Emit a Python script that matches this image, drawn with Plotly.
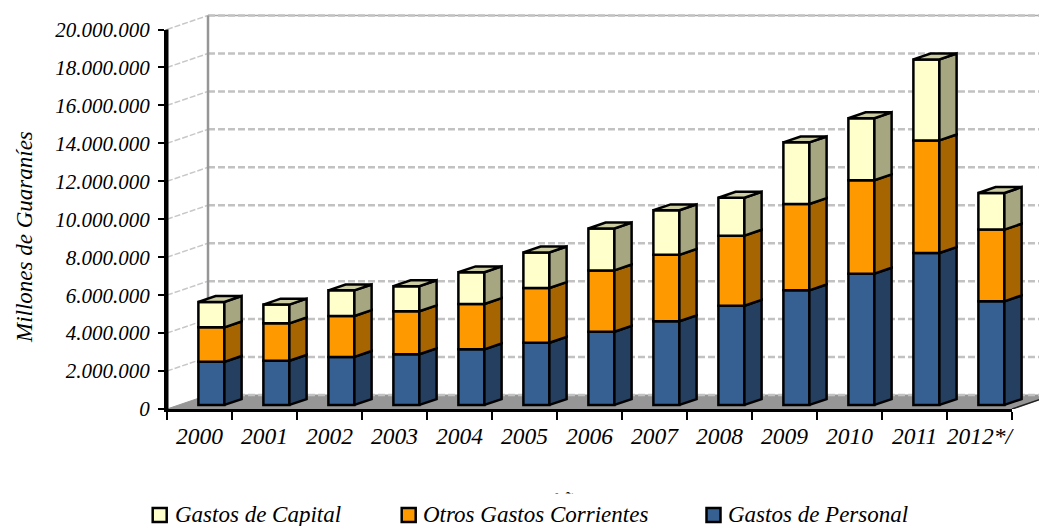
import numpy as np
import plotly.graph_objects as go

# ---------- data ----------
years = ["2000", "2001", "2002", "2003", "2004", "2005", "2006",
         "2007", "2008", "2009", "2010", "2011", "2012*/"]
gastos_personal = [2270000, 2330000, 2530000, 2670000, 2930000, 3280000, 3860000,
                   4410000, 5230000, 6040000, 6920000, 8010000, 5460000]
otros_corrientes = [1820000, 1970000, 2160000, 2270000, 2390000, 2880000, 3230000,
                    3500000, 3690000, 4550000, 4920000, 5930000, 3780000]
gastos_capital = [1340000, 990000, 1350000, 1320000, 1670000, 1880000, 2210000,
                  2350000, 2000000, 3250000, 3270000, 4270000, 1930000]
y_ticks = list(range(0, 20000001, 2000000))

series_names = ["Gastos de Personal", "Otros Gastos Corrientes", "Gastos de Capital"]
series_values = [gastos_personal, otros_corrientes, gastos_capital]
front_colors = ["#366092", "#FF9900", "#FFFFCC"]
side_colors = ["#243F60", "#A66500", "#A6A680"]
top_color = "#CCCCA3"

# ---------- layout constants (pixels of the frame) ----------
W, H = 1039, 526
L, R, T, B = 167, 1012, 29.5, 409   # front plane of the 3-D box
TOP = 10                            # top of the drawing area (room for the back wall)
n = len(years)
YMAX = 20000000
PX_CAT = (R - L) / n
PX_VAL = (B - T) / YMAX
DX = 41 / PX_CAT                    # wall depth in category units
DY = 14 / PX_VAL                    # wall depth in value units
Z0, Z1 = 0.29, 0.71                 # bar position inside the depth
BW = 0.40
FONT = "Liberation Serif"

px = lambda v: (v - L) / (W - L)
py = lambda v: (B - v) / (B - TOP)

x0, x1 = -0.5, n - 0.5
full_x = [x0, x0 + (W - L) / PX_CAT]
full_y = [0, (B - TOP) / PX_VAL]

fig = go.Figure()
common = dict(hoverinfo="skip", showlegend=False, cliponaxis=False, mode="lines")

# ---------- floor, walls and grid (bottom subplot, hidden full-size axes) ----------
fig.add_trace(go.Scatter(x=[x0, x1, x1 + DX, x0 + DX, x0], y=[0, 0, DY, DY, 0],
                         fill="toself", fillcolor="#969696", line=dict(color="#969696", width=1), **common))
fig.add_trace(go.Scatter(x=[x1, x1 + DX], y=[0, DY], line=dict(color="#222222", width=1.5), **common))
fig.add_trace(go.Scatter(x=[x0 + DX, x1 + DX], y=[YMAX + DY] * 2, line=dict(color="#A8A8A8", width=1.5), **common))
gx, gy, wx, wy = [], [], [], []
for v in y_ticks:
    gx += [x0 + DX, x1 + DX, None]
    gy += [v + DY, v + DY, None]
    if v > 0:
        wx += [x0, x0 + DX, None]
        wy += [v, v + DY, None]
fig.add_trace(go.Scatter(x=gx, y=gy, line=dict(color="#C2C2C2", width=2.5, dash="7px,3px"), **common))
fig.add_trace(go.Scatter(x=wx, y=wy, line=dict(color="#C8C8C8", width=1.5, dash="6px,2px"), **common))
fig.add_trace(go.Scatter(x=[x0 + DX, x0 + DX], y=[DY, YMAX + DY], line=dict(color="#969696", width=2.5), **common))

# ---------- bars (overlay subplot, above the walls) ----------
EDGE = dict(color="black", width=2.5)
cum = np.zeros(n)
xc = np.arange(n) + Z0 * DX
d = (Z1 - Z0) * DX
for values, name, fc, sc in zip(series_values, series_names, front_colors, side_colors):
    vals = np.array(values, dtype=float)
    fig.add_trace(go.Bar(x=xc, y=vals, base=cum + Z0 * DY, width=BW, name=name,
                         marker=dict(color=fc, line=EDGE),
                         xaxis="x2", yaxis="y2", cliponaxis=False, showlegend=False))
    sx, sy = [], []
    for i in range(n):
        xr = xc[i] + BW / 2
        lo, hi = cum[i], cum[i] + vals[i]
        sx += [xr, xr + d, xr + d, xr, xr, None]
        sy += [lo + Z0 * DY, lo + Z1 * DY, hi + Z1 * DY, hi + Z0 * DY, lo + Z0 * DY, None]
    fig.add_trace(go.Scatter(x=sx, y=sy, fill="toself", fillcolor=sc, line=EDGE,
                             xaxis="x2", yaxis="y2", **common))
    cum = cum + vals

tx, ty = [], []
for i in range(n):
    xl, xr = xc[i] - BW / 2, xc[i] + BW / 2
    tx += [xl, xr, xr + d, xl + d, xl, None]
    ty += [cum[i] + Z0 * DY, cum[i] + Z0 * DY, cum[i] + Z1 * DY, cum[i] + Z1 * DY, cum[i] + Z0 * DY, None]
fig.add_trace(go.Scatter(x=tx, y=ty, fill="toself", fillcolor=top_color, line=EDGE,
                         xaxis="x2", yaxis="y2", **common))

# invisible trace that keeps the visible front-plane axes alive
fig.add_trace(go.Scatter(x=[0, n - 1], y=[0, YMAX], mode="lines", line=dict(color="rgba(0,0,0,0)", width=0),
                         xaxis="x3", yaxis="y3", hoverinfo="skip", showlegend=False))

# ---------- legend and texts ----------
legend_items = [("Gastos de Capital", 152.7, 175, "#FFFFCC"),
                ("Otros Gastos Corrientes", 401.7, 423, "#FF9900"),
                ("Gastos de Personal", 706.5, 728, "#366092")]
shapes = [dict(type="line", xref="paper", yref="paper", x0=px(L), x1=px(L), y0=py(T), y1=py(B),
               line=dict(color="black", width=3))]
annotations = [
    dict(text="Millones de Guaraníes", x=px(24), y=py(237), xref="paper", yref="paper",
         textangle=-90, showarrow=False, xanchor="center", yanchor="middle",
         font=dict(family=FONT, size=23, style="italic", color="black")),
    dict(text="Años", x=px(570), y=py(500), xref="paper", yref="paper", showarrow=False,
         xanchor="center", yanchor="middle",
         font=dict(family=FONT, size=23, style="italic", color="black")),
    dict(text=" ", x=px(570), y=py(510), xref="paper", yref="paper", showarrow=False,
         xanchor="center", yanchor="middle", width=150, height=30, bgcolor="white",
         font=dict(size=10)),
]
for label, sx_, tx_, col in legend_items:
    shapes.append(dict(type="rect", xref="paper", yref="paper",
                       x0=px(sx_), x1=px(sx_ + 14), y0=py(508), y1=py(522),
                       fillcolor=col, line=dict(color="black", width=2.5)))
    annotations.append(dict(text=label, x=px(tx_), y=py(514), xref="paper", yref="paper",
                            showarrow=False, xanchor="left", yanchor="middle", xshift=-2,
                            font=dict(family=FONT, size=23, style="italic", color="black")))

hidden = dict(visible=False, showgrid=False, zeroline=False)
fig.update_layout(
    width=W, height=H, autosize=False,
    margin=dict(l=L, r=0, t=TOP, b=H - B, pad=0, autoexpand=False),
    paper_bgcolor="white", plot_bgcolor="rgba(0,0,0,0)",
    barmode="overlay", separators=",.", showlegend=False,
    shapes=shapes, annotations=annotations,
    xaxis=dict(range=full_x, domain=[0, 1], anchor="y", **hidden),
    yaxis=dict(range=full_y, domain=[0, 1], anchor="x", **hidden),
    xaxis2=dict(range=full_x, overlaying="x", anchor="y2", **hidden),
    yaxis2=dict(range=full_y, overlaying="y", anchor="x2", **hidden),
    xaxis3=dict(range=[x0, x1], domain=[0, px(R)], anchor="y3", tickvals=list(range(n)), ticktext=years,
                ticks="", ticklen=0, showgrid=False, zeroline=False, showline=True,
                linecolor="black", linewidth=3, ticklabelstandoff=4,
                tickfont=dict(family=FONT, size=23.5, style="italic", color="black"),
                minor=dict(tickvals=[i - 0.5 for i in range(n + 1)], ticks="outside", ticklen=8,
                           tickcolor="black", tickwidth=1.5, showgrid=False)),
    yaxis3=dict(range=[0, YMAX], domain=[0, py(T)], anchor="x3", tickvals=y_ticks, tickformat=",d",
                ticks="outside", ticklen=6, tickcolor="black", tickwidth=1.5, showgrid=False,
                zeroline=False, showline=True, linecolor="black", linewidth=3, ticklabelstandoff=4,
                tickfont=dict(family=FONT, size=21, style="italic", color="black")),
)

fig.write_html("out.html", config=dict(displayModeBar=False),
               post_script="document.body.style.margin='0';document.body.style.overflow='hidden';")
